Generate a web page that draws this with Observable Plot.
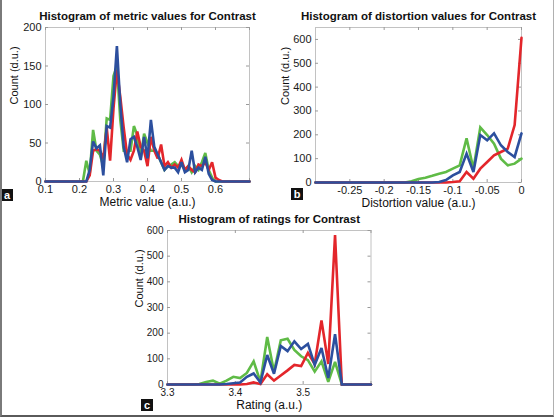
<!DOCTYPE html>
<html>
<head>
<meta charset="utf-8">
<script src="https://cdn.jsdelivr.net/npm/d3@7"></script>
<script src="https://cdn.jsdelivr.net/npm/@observablehq/plot@0.6"></script>
<style>
  html, body { margin: 0; padding: 0; background: #fff; }
  #fig { position: relative; width: 554px; height: 418px; overflow: hidden; background: #fff;
         font-family: "Liberation Sans", Arial, Helvetica, sans-serif; }
  #fig .panel { position: absolute; }
  #fig .tag { position: absolute; width: 12px; height: 12px; background: #111; color: #fff;
              font: bold 11px "Liberation Sans", Arial, sans-serif; text-align: center; line-height: 12px; }
  #border { position: absolute; left: 0; top: 0; width: 554px; height: 417px; box-sizing: border-box;
            border-left: 2px solid #7a7a7a; border-bottom: 2px solid #5a5a5a; border-right: 1px solid #b0b0b0;
            pointer-events: none; }
</style>
</head>
<body>
<div id="fig"></div>
<script>
// ---------- Data ----------
const seriesColors = ["#5fbb46", "#e3262b", "#2c4f9e"]; // green, red, blue

// (a) Histogram of metric values
const metricBins = [0.10, 0.21, 0.22, 0.23, 0.24, 0.25, 0.26, 0.27, 0.28, 0.29, 0.30, 0.31, 0.32, 0.33, 0.34, 0.35, 0.36, 0.37, 0.38, 0.39, 0.40, 0.41, 0.42, 0.43, 0.44, 0.45, 0.46, 0.47, 0.48, 0.49, 0.50, 0.51, 0.52, 0.53, 0.54, 0.55, 0.56, 0.57, 0.58, 0.59, 0.60, 0.61, 0.62, 0.70];
const metricGreen = [0, 0, 27, 10, 67, 40, 35, 20, 82, 80, 137, 150, 80, 40, 40, 40, 72, 60, 30, 62, 50, 40, 40, 35, 25, 15, 20, 22, 25, 20, 22, 15, 20, 12, 20, 15, 25, 37, 15, 5, 0, 0, 0, 0];
const metricRed   = [0, 0, 0, 8, 40, 42, 40, 30, 70, 27, 95, 145, 110, 70, 35, 28, 40, 65, 45, 40, 20, 58, 40, 30, 48, 20, 25, 18, 22, 18, 28, 15, 20, 15, 12, 22, 20, 25, 15, 25, 5, 2, 0, 0];
const metricBlue  = [0, 0, 0, 15, 52, 43, 47, 8, 72, 70, 110, 176, 100, 45, 25, 55, 58, 45, 28, 58, 30, 80, 45, 35, 25, 15, 20, 18, 18, 12, 25, 12, 15, 40, 12, 18, 15, 32, 10, 2, 0, 0, 0, 0];
const metricXTicks = [0.1, 0.2, 0.3, 0.4, 0.5, 0.6];
const metricXMarks = [0.1, 0.2, 0.3, 0.4, 0.5, 0.6, 0.7];
const metricYTicks = [0, 50, 100, 150, 200];

// (b) Histogram of distortion values
const distBins  = [-0.30, -0.18, -0.17, -0.16, -0.15, -0.14, -0.13, -0.12, -0.11, -0.10, -0.09, -0.08, -0.07, -0.06, -0.05, -0.04, -0.03, -0.02, -0.01, 0];
const distGreen = [0, 0, 0, 5, 15, 20, 28, 37, 44, 58, 72, 185, 58, 231, 199, 163, 100, 72, 79, 100];
const distRed   = [0, 0, 0, 0, 0, 0, 0, 0, 0, 2, 5, 44, 16, 58, 86, 114, 128, 142, 241, 607];
const distBlue  = [0, 0, 0, 0, 0, 0, 0, 2, 10, 30, 44, 121, 44, 199, 177, 206, 156, 128, 107, 206];
const distXTicks = [-0.25, -0.2, -0.15, -0.1, -0.05, 0];
const distYTicks = [0, 100, 200, 300, 400, 500, 600];

// (c) Histogram of ratings
const ratingBins  = [3.30, 3.337, 3.347, 3.357, 3.367, 3.377, 3.387, 3.397, 3.407, 3.417, 3.427, 3.437, 3.447, 3.457, 3.467, 3.477, 3.487, 3.497, 3.507, 3.517, 3.527, 3.537, 3.547, 3.557, 3.60];
const ratingGreen = [0, 0, 2, 10, 15, 3, 15, 30, 25, 45, 90, 10, 185, 50, 172, 178, 135, 110, 95, 50, 90, 10, 88, 0, 0];
const ratingRed   = [0, 0, 0, 0, 0, 0, 0, 0, 0, 2, 8, 2, 40, 15, 35, 55, 76, 72, 123, 80, 250, 80, 582, 0, 0];
const ratingBlue  = [0, 0, 0, 0, 0, 0, 2, 5, 8, 30, 43, 8, 115, 42, 150, 130, 168, 138, 158, 76, 142, 25, 196, 0, 0];
const ratingXTicks = [3.3, 3.4, 3.5];
const ratingXMarks = [3.3, 3.4, 3.5, 3.6];
const ratingYTicks = [0, 100, 200, 300, 400, 500, 600];

// ---------- Drawing ----------
const fig = document.getElementById("fig");

function panel(o) {
  const innerW = o.width - o.ml - o.mr;
  const innerH = o.height - o.mt - o.mb;
  const tick = 3;
  const lines = o.series.map((vals, k) =>
    Plot.line(vals, {x: (d, i) => o.bins[i], y: d => d, stroke: seriesColors[k], strokeWidth: 2.6, strokeLinejoin: "miter", strokeMiterlimit: 3})
  );
  const svg = Plot.plot({
    width: o.width,
    height: o.height,
    marginLeft: o.ml, marginRight: o.mr, marginTop: o.mt, marginBottom: o.mb,
    style: {fontFamily: '"Liberation Sans", Arial, sans-serif', fontSize: o.tickFont + "px", color: "#1a1a1a", background: "transparent", overflow: "visible"},
    x: {domain: o.xDomain, ticks: o.xTicks, tickSize: 0, tickPadding: 4, tickFormat: d => String(d), label: null},
    y: {domain: o.yDomain, ticks: o.yTicks, tickSize: 0, tickPadding: 4, tickFormat: d => String(d), label: null},
    marks: [
      Plot.frame({stroke: "#c2c2c2"}),
      Plot.ruleX(o.xMarks, {x: d => d, insetTop: innerH - tick, stroke: "#9a9a9a"}),
      Plot.ruleX(o.xMarks, {x: d => d, insetBottom: innerH - tick, stroke: "#9a9a9a"}),
      Plot.ruleY(o.yTicks, {y: d => d, insetRight: innerW - tick, stroke: "#9a9a9a"}),
      Plot.ruleY(o.yTicks, {y: d => d, insetLeft: innerW - tick, stroke: "#9a9a9a"}),
      ...lines,
      Plot.text([o.title], {frameAnchor: "top", text: d => d, dy: -8, lineAnchor: "bottom", fontWeight: "bold", fontSize: 11.5, fill: "#111"}),
      Plot.text([o.xLabel], {frameAnchor: "bottom", text: d => d, dy: o.xLabelDy, lineAnchor: "bottom", fontSize: 12, fill: "#111"}),
      Plot.text([o.yLabel], {frameAnchor: "left", text: d => d, dx: o.yLabelDx, rotate: -90, fontSize: 11, fill: "#111"})
    ]
  });
  svg.classList.add("panel");
  svg.style.left = o.left + "px";
  svg.style.top = o.top + "px";
  fig.appendChild(svg);
}

panel({
  left: 0, top: 0, width: 277, height: 210, ml: 45, mr: 28, mt: 27, mb: 29, tickFont: 11,
  bins: metricBins, series: [metricGreen, metricRed, metricBlue],
  xDomain: [0.1, 0.7], yDomain: [0, 200],
  xTicks: metricXTicks, xMarks: metricXMarks, yTicks: metricYTicks,
  title: "Histogram of metric values for Contrast",
  xLabel: "Metric value (a.u.)", xLabelDy: 24,
  yLabel: "Count (d.u.)", yLabelDx: -31
});

panel({
  left: 277, top: 0, width: 277, height: 210, ml: 38, mr: 33, mt: 27, mb: 28, tickFont: 11,
  bins: distBins, series: [distGreen, distRed, distBlue],
  xDomain: [-0.3, 0], yDomain: [0, 650],
  xTicks: distXTicks, xMarks: distXTicks, yTicks: distYTicks,
  title: "Histogram of distortion values for Contrast",
  xLabel: "Distortion value (a.u.)", xLabelDy: 24,
  yLabel: "Count (d.u.)", yLabelDx: -30
});

panel({
  left: 120, top: 205, width: 300, height: 213, ml: 47, mr: 49.5, mt: 25, mb: 34, tickFont: 10,
  bins: ratingBins, series: [ratingGreen, ratingRed, ratingBlue],
  xDomain: [3.3, 3.6], yDomain: [0, 600],
  xTicks: ratingXTicks, xMarks: ratingXMarks, yTicks: ratingYTicks,
  title: "Histogram of ratings for Contrast",
  xLabel: "Rating (a.u.)", xLabelDy: 24,
  yLabel: "Count (d.u.)", yLabelDx: -28
});

// panel tags
const tags = [["a", 1, 189], ["b", 291, 188], ["c", 141, 399]];
for (const [t, x, y] of tags) {
  const d = document.createElement("div");
  d.className = "tag";
  d.textContent = t;
  d.style.left = x + "px";
  d.style.top = y + "px";
  fig.appendChild(d);
}
const b = document.createElement("div");
b.id = "border";
fig.appendChild(b);
</script>
</body>
</html>
